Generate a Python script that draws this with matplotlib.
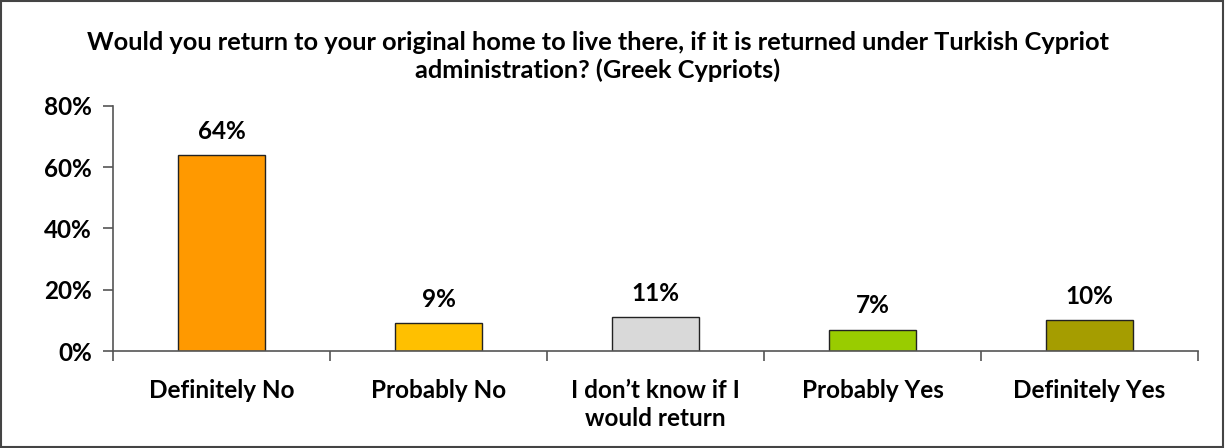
import matplotlib
matplotlib.use("Agg")
import matplotlib.pyplot as plt
from matplotlib.ticker import FixedLocator, NullFormatter
from matplotlib.patches import Rectangle

plt.rcParams['font.family'] = ['Lato', 'DejaVu Sans']

categories = ["Definitely No", "Probably No", "I don\u2019t know if I\nwould return",
              "Probably Yes", "Definitely Yes"]
values = [64, 9, 11, 7, 10]
colors = ["#FF9900", "#FFC000", "#D9D9D9", "#99CC00", "#A59D00"]
yticks = [0, 20, 40, 60, 80]
title = ("Would you return to your original home to live there, if it is returned under Turkish Cypriot\n"
         "administration? (Greek Cypriots)")

fs = 17.5

fig = plt.figure(figsize=(12.25, 4.48), dpi=100)
ax = fig.add_axes([0.0922, 0.2165, 0.8858, 0.547])

x = range(len(categories))
ax.bar(x, values, width=0.4, color=colors, edgecolor="#222222", linewidth=1)
for xi, v in zip(x, values):
    ax.text(xi, v + 4, f"{v}%", ha="center", va="bottom", fontsize=fs, fontweight="bold")

ax.set_xlim(-0.5, len(categories) - 0.5)
ax.set_ylim(0, 80)
ax.set_yticks(yticks)
ax.set_yticklabels([f"{t}%" for t in yticks], fontsize=fs, fontweight="bold")
ax.set_xticks(list(x))
ax.set_xticklabels(categories, fontsize=fs, fontweight="bold", linespacing=1.3)
ax.tick_params(axis="x", which="major", length=0, pad=20)
ax.xaxis.set_minor_locator(FixedLocator([i - 0.5 for i in range(len(categories) + 1)]))
ax.xaxis.set_minor_formatter(NullFormatter())
ax.tick_params(axis="x", which="minor", length=7, color="#555555", width=1.2)
ax.tick_params(axis="y", length=7, color="#555555", width=1.2, pad=8)

for s in ["top", "right"]:
    ax.spines[s].set_visible(False)
for s in ["left", "bottom"]:
    ax.spines[s].set_color("#555555")
    ax.spines[s].set_linewidth(1.2)

fig.text(0.488, 0.93, title, ha="center", va="top", fontsize=18.3, fontweight="bold", linespacing=1.2)

fig.patches.append(Rectangle((0.001, 0.002), 0.997, 0.995, transform=fig.transFigure,
                             fill=False, edgecolor="#444444", linewidth=1.5))

fig.savefig("out.png", dpi=100, facecolor="white")
